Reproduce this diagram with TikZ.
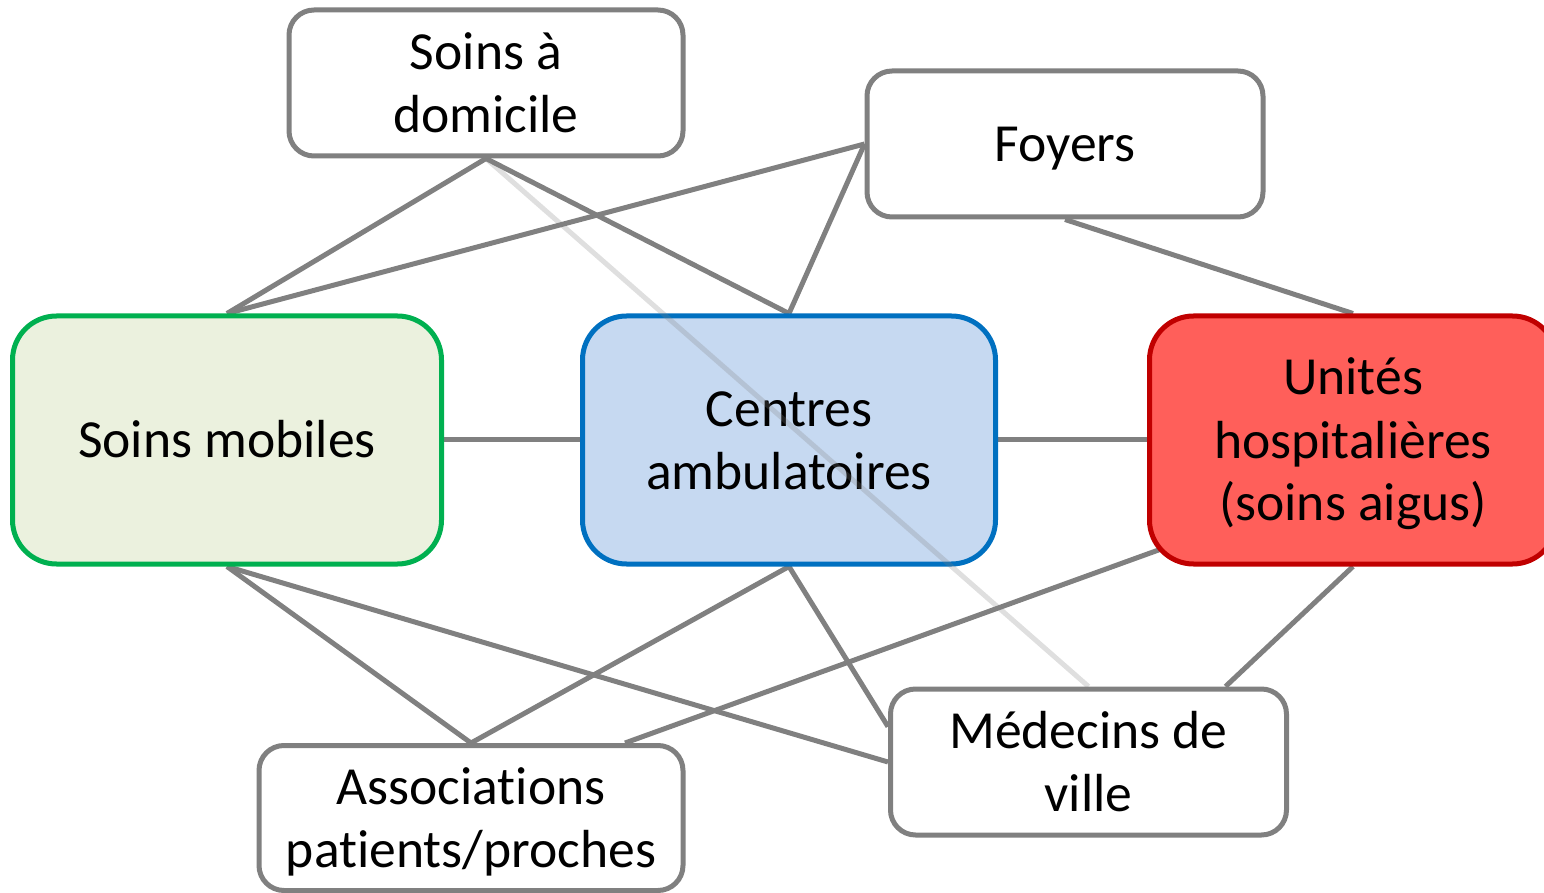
\documentclass[tikz,border=0pt]{standalone}
\usepackage{fontspec}
\setmainfont{Carlito}[Ligatures=NoCommon]
\usetikzlibrary{calc,backgrounds}
\definecolor{lgray}{HTML}{808080}
\definecolor{sgreen}{HTML}{00B050}
\definecolor{sgreenfill}{HTML}{EBF1DE}
\definecolor{sblue}{HTML}{0070C0}
\definecolor{sbluefill}{HTML}{C6D9F1}
\definecolor{sred}{HTML}{C00000}
\definecolor{sredfill}{HTML}{FF5F5A}
\newcommand\lstrut{\rule[-6.75pt]{0pt}{31.5pt}}
\begin{document}
\begin{tikzpicture}[x=0.5pt,y=-0.5pt,
  txt/.style={font=\fontsize{26.8}{31.5}\selectfont, align=center, text=black},
  graybox/.style={txt, draw=lgray, line width=2.5pt, fill=white, rounded corners=12.5pt, inner sep=0pt},
  bigbox/.style={txt, line width=2.5pt, rounded corners=22pt, inner sep=0pt, minimum width=#1, minimum height=124pt},
  conn/.style={draw=lgray, line width=2.5pt},
  faint/.style={draw=lgray, line width=2.5pt, draw opacity=0.25}]
\useasboundingbox (0,0) rectangle (1544,893);
% nodes
\node[graybox, minimum width=197pt, minimum height=73pt] (ds) at (486,83) {\lstrut Soins à\\\lstrut domicile};
\node[graybox, minimum width=198pt, minimum height=73pt] (fo) at (1065,144) {\lstrut Foyers};
\node[graybox, minimum width=198pt, minimum height=73pt] (med) at (1088.5,762) {\lstrut Médecins de\\\lstrut ville};
\node[graybox, minimum width=212pt, minimum height=72.5pt] (as) at (471,818) {\lstrut Associations\\\lstrut patients/proches};
\node[bigbox=214.5pt, draw=sgreen, fill=sgreenfill] (sm) at (227,440) {\lstrut Soins mobiles};
\node[bigbox=206.5pt, draw=sblue, fill=sbluefill] (ca) at (789,440) {\lstrut Centres\\\lstrut ambulatoires};
\node[bigbox=203.5pt, draw=sred, fill=sredfill] (uh) at (1353,440) {\lstrut Unités\\\lstrut hospitalières\\\lstrut (soins aigus)};
% connectors behind nodes
\begin{scope}[on background layer]
\path[conn] (ds.south) -- (sm.north);
\path[conn] (ds.south) -- (ca.north);
\path[conn] (fo.west) -- (sm.north);
\path[conn] (fo.west) -- (ca.north);
\path[conn] (fo.south) -- (uh.north);
\path[conn] (sm.east) -- (ca.west);
\path[conn] (ca.east) -- (uh.west);
\path[conn] (sm.south) -- (as.north);
\path[conn] (sm.south) -- (med.west);
\path[conn] (ca.south) -- (as.north);
\path[conn] (ca.south) -- (med.170);
\coordinate (uhin) at ($(uh.center)+(-153,95)$);
\coordinate (asr) at ($(as.north)+(154,0)$);
\coordinate (medr) at ($(med.north)+(137,0)$);
\path[conn] (uhin) -- (asr);
\path[conn] (uh.south) -- (medr);
\end{scope}
% faint connector on top
\path[faint] (ds.south) -- (med.north);
\end{tikzpicture}
\end{document}
